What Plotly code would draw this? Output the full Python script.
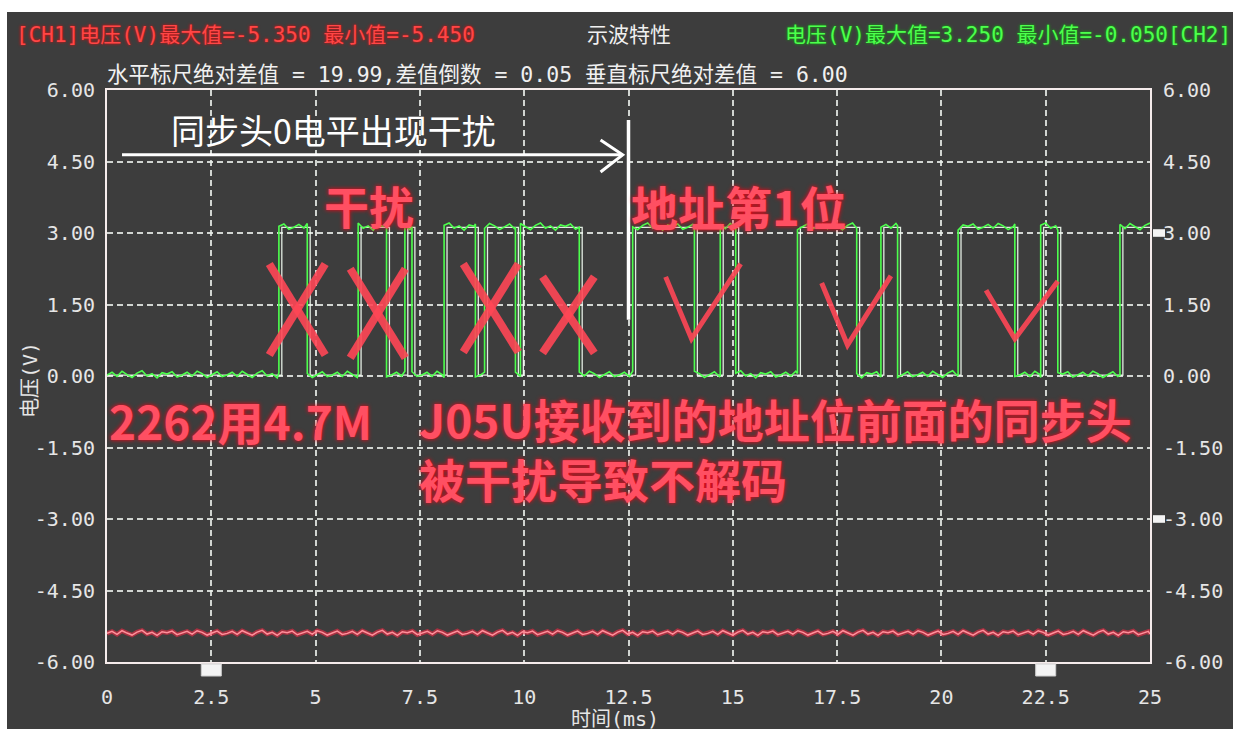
import plotly.graph_objects as go

# ---------------- data ----------------
x_min, x_max = 0.0, 25.0            # time (ms)
y_min, y_max = -6.0, 6.0            # voltage (V)
x_tick_vals = [0, 2.5, 5, 7.5, 10, 12.5, 15, 17.5, 20, 22.5, 25]
x_tick_text = ["0", "2.5", "5", "7.5", "10", "12.5", "15", "17.5", "20", "22.5", "25"]
y_tick_vals = [6.0, 4.5, 3.0, 1.5, 0.0, -1.5, -3.0, -4.5, -6.0]
y_tick_text = ["6.00", "4.50", "3.00", "1.50", "0.00", "-1.50", "-3.00", "-4.50", "-6.00"]

# CH2 (green) transition times in ms, starting from the low level (rise, fall, rise, ...)
ch2_edges = [4.12, 4.80, 6.02, 6.70, 7.14, 7.31, 8.08, 8.83, 9.05, 9.79, 9.91, 11.32,
             12.60, 14.08, 14.70, 15.07, 16.55, 17.97, 18.55, 18.95, 20.40, 21.76,
             22.38, 22.79, 24.28]
ch2_low = 0.02
ch2_high = 3.12
ch1_level = -5.40                    # CH1 (red) flat level

# hand-read ripple on the traces (V)
ripple_v = [0.00, 0.06, -0.03, 0.08, 0.01, -0.05, 0.04, 0.09, -0.02, 0.03, -0.06, 0.05,
            0.02, 0.07, -0.04, 0.00, 0.06, -0.02, 0.08, 0.03, -0.05, 0.01, 0.07, -0.03]

# cursor positions
h_cursors = [2.5, 22.5]
v_cursors = [3.0, -3.0]

# annotation marks (time ms, volts)
x_marks = [(3.89, 5.23, 2.35, 0.44), (5.83, 7.15, 2.25, 0.38),
           (8.54, 9.86, 2.35, 0.50), (10.44, 11.68, 2.08, 0.48)]
check_marks = [[(13.39, 2.08), (14.01, 0.78), (15.19, 2.35)],
               [(17.13, 1.95), (17.75, 0.65), (18.79, 2.10)],
               [(21.07, 1.80), (21.76, 0.78), (22.79, 1.99)]]

# ---------------- build traces ----------------
step = 0.12


def step_wave(edges, low, high, rip_scale):
    bounds = [x_min] + edges + [x_max]
    ts, vs = [], []
    j = 0
    n = len(ripple_v)
    for i in range(len(bounds) - 1):
        a, b = bounds[i], bounds[i + 1]
        lvl = high if i % 2 else low
        t = a
        while t < b - 1e-9:
            ts.append(t)
            vs.append(lvl + rip_scale * ripple_v[j % n])
            j += 1
            t += step
        ts.append(b)
        vs.append(lvl + rip_scale * ripple_v[j % n])
        j += 1
    return ts, vs


g_t, g_v = step_wave(ch2_edges, ch2_low, ch2_high, 1.0)
r_t, r_v = step_wave([], ch1_level, ch1_level, 0.7)

# white "persistence" edges slightly behind the green trace
w_t = [x_min] + [e + 0.07 for e in ch2_edges] + [x_max]
w_v = [ch2_low if i % 2 == 0 else ch2_high for i in range(len(ch2_edges) + 1)]
w_v.append(w_v[-1])

fig = go.Figure()
fig.add_trace(go.Scatter(x=w_t, y=w_v, mode="lines", line_shape="hv",
                         line=dict(color="rgba(245,255,245,0.9)", width=1.3),
                         hoverinfo="skip"))
fig.add_trace(go.Scatter(x=g_t, y=g_v, mode="lines",
                         line=dict(color="#4dff4d", width=1.6), name="CH2"))
fig.add_trace(go.Scatter(x=r_t, y=r_v, mode="lines", yaxis="y2",
                         line=dict(color="rgba(255,40,70,0.55)", width=4.5),
                         hoverinfo="skip"))
fig.add_trace(go.Scatter(x=r_t, y=r_v, mode="lines", yaxis="y2",
                         line=dict(color="#ff8f9a", width=1.5), name="CH1"))

# ---------------- layout ----------------
L, R, T, B = 107, 89, 90, 74
W, H = 1239, 736
PW, PH = W - L - R, H - T - B


def px(xpix):
    return (xpix - L) / PW


def py(ypix):
    return (H - B - ypix) / PH


tick_font = dict(family="DejaVu Sans Mono, Noto Sans CJK SC", size=20, color="#e6e6e6")
grid_kw = dict(showgrid=True, gridcolor="rgba(235,240,235,0.85)", gridwidth=1.5,
               griddash="6px,4px", zeroline=False)

fig.update_layout(
    width=W, height=H,
    margin=dict(l=L, r=R, t=T, b=B, autoexpand=False),
    paper_bgcolor="white",
    plot_bgcolor="#3a3a3a",
    showlegend=False,
    xaxis=dict(range=[x_min, x_max], tickvals=x_tick_vals, ticktext=x_tick_text,
               tickfont=tick_font, ticks="", ticklabelstandoff=16,
               showline=True, mirror=True, linecolor="#f6ecec", linewidth=2,
               **grid_kw),
    yaxis=dict(range=[y_min, y_max], tickvals=y_tick_vals, ticktext=y_tick_text,
               tickfont=tick_font, ticks="", ticklabelstandoff=6,
               showline=True, mirror=True, linecolor="#f6ecec", linewidth=2,
               **grid_kw),
    yaxis2=dict(range=[y_min, y_max], tickvals=y_tick_vals, ticktext=y_tick_text,
                tickfont=tick_font, ticks="", ticklabelstandoff=12,
                overlaying="y", side="right", showgrid=False, zeroline=False,
                showline=False),
)

shapes = []
# dark instrument background (white border around it)
shapes.append(dict(type="rect", xref="paper", yref="paper",
                   x0=px(7), x1=px(1233), y0=py(729), y1=py(12),
                   fillcolor="#3d3d3d", line=dict(width=0), layer="below"))
# cursor boxes
for c in h_cursors:
    shapes.append(dict(type="rect", xref="x", yref="paper", x0=c - 0.24, x1=c + 0.24,
                       y0=py(676), y1=py(664), fillcolor="#f4f4f4",
                       line=dict(color="#cfcfcf", width=1)))
for c in v_cursors:
    shapes.append(dict(type="rect", xref="paper", yref="y", x0=px(1153), x1=px(1165),
                       y0=c - 0.08, y1=c + 0.08, fillcolor="#f4f4f4",
                       line=dict(width=0)))
# arrow and marker line
shapes.append(dict(type="line", xref="x", yref="y", x0=0.36, x1=12.36, y0=4.64, y1=4.64,
                   line=dict(color="white", width=3)))
shapes.append(dict(type="path", xref="x", yref="y",
                   path="M 11.83 4.95 L 12.36 4.64 L 11.83 4.28",
                   line=dict(color="white", width=3)))
shapes.append(dict(type="line", xref="x", yref="y", x0=12.5, x1=12.5, y0=5.37, y1=1.18,
                   line=dict(color="white", width=3.5)))
# red X marks
for (t0, t1, vt, vb) in x_marks:
    for (a, b, c, d) in [(t0, vt, t1, vb), (t1, vt, t0, vb)]:
        shapes.append(dict(type="line", xref="x", yref="y", x0=a, y0=b, x1=c, y1=d,
                           line=dict(color="rgba(255,70,85,0.9)", width=8)))
# red check marks
for pts in check_marks:
    path = "M {} {} L {} {} L {} {}".format(pts[0][0], pts[0][1], pts[1][0], pts[1][1],
                                            pts[2][0], pts[2][1])
    shapes.append(dict(type="path", xref="x", yref="y", path=path,
                       line=dict(color="rgba(255,70,85,0.9)", width=5)))
fig.update_layout(shapes=shapes)

small = "DejaVu Sans Mono, Noto Sans CJK SC"
big = "Noto Sans CJK SC"
red_glow = "0px 0px 4px rgb(255,0,20)"
ann = []


def add(text, x, y, size, color, family=small, xanchor="left", weight="normal",
        shadow="none", textangle=0, align="left"):
    ann.append(dict(text=text, x=x, y=y, xref="paper", yref="paper", showarrow=False,
                    xanchor=xanchor, yanchor="middle", textangle=textangle, borderpad=0,
                    align=align,
                    font=dict(family=family, size=size, color=color, weight=weight,
                              shadow=shadow)))


add("[CH1]电压(V)最大值=-5.350 最小值=-5.450", px(15), py(35), 21, "#ff4646",
    shadow="0px 0px 3px rgb(255,0,0)")
add("示波特性", px(629), py(35), 21, "#f0f0f0", xanchor="center")
add("电压(V)最大值=3.250 最小值=-0.050[CH2]", px(1232), py(35), 21, "#4dff4d",
    xanchor="right", shadow="0px 0px 3px rgb(0,200,0)")
add("水平标尺绝对差值 = 19.99,差值倒数 = 0.05 垂直标尺绝对差值 = 6.00", px(106), py(75),
    21.5, "#f0f0f0")
add("电压(V)", px(30), py(380), 20, "#e6e6e6", xanchor="center", textangle=-90)
add("时间(ms)", px(615), py(719), 20, "#e6e6e6", xanchor="center")

add("同步头0电平出现干扰", px(170), py(130), 34, "#ffffff", family=big)
add("干扰", px(323), py(205), 45, "#ff4f62", family=big, weight="bold", shadow=red_glow)
add("地址第1位", px(630), py(205), 47, "#ff4f62", family=big, weight="bold", shadow=red_glow)
add("2262用4.7M", px(108), py(420), 46, "#ff4f62", family=big, weight="bold",
    shadow=red_glow)
add("J05U接收到的地址位前面的同步头<br>被干扰导致不解码", px(418), py(448), 46, "#ff4f62",
    family=big, weight="bold", shadow=red_glow)
fig.update_layout(annotations=ann)

fig.write_html("out.html")
